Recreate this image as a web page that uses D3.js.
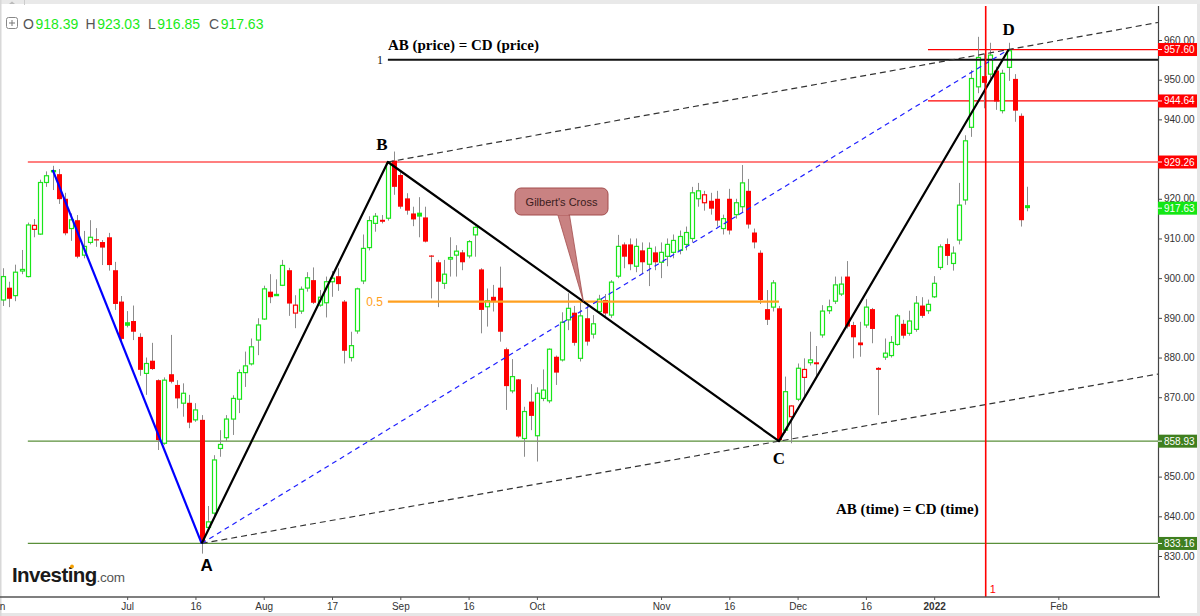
<!DOCTYPE html>
<html><head><meta charset="utf-8">
<script src="https://cdn.jsdelivr.net/npm/d3@7"></script>
<style>html,body{margin:0;padding:0;background:#fff;}svg{display:block;}</style>
</head><body>
<svg id="c" width="1200" height="616"></svg>
<script>
// ---------- DATA ----------
const opens = [894.5,897.6,895.6,901.8,900.4,912.3,911.1,924.1,926.9,926.2,920.0,912.5,914.6,905.8,909.0,909.8,909.1,910.3,902.0,894.1,
888.9,889.2,885.2,876.0,879.2,874.3,858.4,875.8,873.1,868.5,868.6,864.3,864.3,837.2,840.8,857.1,859.8,864.5,869.5,876.2,
878.4,884.4,889.7,896.6,895.7,898.2,902.0,891.2,891.7,897.5,899.5,893.2,893.8,899.1,900.5,894.1,880.0,886.7,899.3,907.7,
913.8,914.7,915.1,929.6,926.0,920.1,916.3,916.5,915.3,905.7,904.0,898.7,904.8,905.8,906.5,905.6,910.9,902.2,892.8,895.3,
897.6,882.1,871.6,874.5,859.6,868.9,860.3,869.7,869.1,880.2,879.4,889.5,891.3,879.8,889.9,885.9,891.6,894.5,890.7,900.5,
908.5,908.5,903.0,907.0,903.5,906.5,904.0,905.5,906.5,907.0,908.5,910.0,920.0,919.0,919.5,920.0,912.5,920.0,916.0,918.0,
922.0,911.5,906.4,892.2,892.7,892.4,861.7,865.1,869.5,875.0,878.7,878.8,885.7,891.8,894.2,896.0,900.4,888.2,883.8,888.2,
892.2,877.4,880.1,880.5,883.3,888.5,886.1,887.1,893.1,891.8,895.3,902.7,908.6,903.7,909.6,919.7,938.0,948.2,950.9,951.4,
952.3,942.2,953.1,950.2,940.9,918.39];
const highs = [902.5,899.1,903.4,907.1,914.0,914.9,924.8,926.9,928.3,927.5,921.5,916.3,915.9,911.9,914.6,912.6,909.6,911.4,904.1,895.5,
891.7,893.1,886.1,880.0,883.7,874.5,875.0,885.7,874.3,873.5,870.6,868.5,865.5,842.6,855.4,861.7,865.5,870.5,877.0,881.5,
884.8,889.9,898.1,901.0,899.7,904.6,902.6,895.7,897.9,901.5,902.7,897.0,900.4,901.8,902.5,894.5,886.5,897.6,911.0,915.6,
916.4,915.9,929.3,931.9,927.0,921.4,918.0,920.4,918.0,905.8,904.6,904.6,910.3,908.3,907.1,909.6,913.1,902.5,897.4,898.3,
902.9,882.5,879.6,874.6,867.6,873.3,872.5,877.0,882.3,880.5,891.4,896.2,893.0,894.0,893.6,890.7,895.8,896.0,899.5,910.9,
909.0,910.0,910.0,909.0,909.0,908.0,909.0,910.0,911.0,912.0,913.0,923.0,924.0,922.0,921.5,922.0,916.0,922.5,920.0,928.5,
925.0,912.5,907.0,897.0,899.5,893.0,875.2,868.0,878.5,879.8,886.5,882.9,893.2,894.6,900.4,900.4,904.3,889.0,889.0,894.7,
892.5,877.6,884.8,885.4,891.0,889.5,891.8,895.5,895.2,894.6,900.5,908.5,910.0,908.0,924.0,936.0,952.4,960.8,956.6,959.3,
953.3,952.5,959.3,951.4,941.5,923.03];
const lows = [893.0,892.7,894.2,901.0,900.2,910.3,910.9,923.0,922.2,918.7,910.8,909.4,905.0,905.0,908.5,907.9,903.3,901.9,892.0,884.0,
887.6,884.4,875.4,870.6,876.9,856.7,858.0,873.5,867.2,865.1,862.2,863.8,830.6,836.8,839.8,855.0,859.0,860.5,866.0,872.6,
878.0,880.6,889.5,893.7,895.5,898.0,890.5,887.4,891.0,896.6,893.5,892.8,890.1,895.3,896.8,878.5,879.0,886.0,898.5,907.0,
911.7,913.8,914.5,921.0,917.5,916.0,913.1,910.3,909.0,894.9,892.7,897.3,900.4,900.4,902.0,905.0,905.4,886.1,887.8,891.6,
884.0,866.8,871.0,859.8,855.0,861.7,853.8,869.0,868.5,873.1,879.0,886.9,883.0,879.0,883.0,884.8,891.0,890.5,890.0,900.0,
902.5,902.0,901.5,901.0,898.0,902.0,900.0,903.0,905.0,906.0,907.0,909.0,918.0,917.0,916.0,913.0,911.0,911.0,915.0,916.5,
912.5,907.5,893.5,888.2,891.6,858.93,861.0,858.4,869.0,870.1,878.0,875.2,885.0,891.0,893.5,895.5,887.3,879.8,880.2,887.5,
883.6,865.5,879.4,880.0,883.0,884.8,885.5,886.5,890.0,891.0,895.0,902.1,903.3,901.9,908.5,918.5,935.6,946.6,942.8,950.0,
942.4,941.5,949.7,939.4,913.0,916.85];
const closes = [900.4,894.8,901.5,902.2,913.4,913.3,924.1,925.8,927.1,919.9,911.3,914.7,905.4,908.0,910.3,909.5,907.7,903.3,893.5,884.7,
888.0,886.5,876.9,878.5,877.1,859.2,874.3,873.9,869.7,871.0,863.6,866.8,833.4,838.6,854.2,858.1,864.5,869.7,876.2,877.9,
882.7,888.2,897.3,895.2,895.9,903.2,893.6,893.2,897.2,900.1,893.8,895.2,899.1,900.0,898.5,881.7,883.0,897.3,907.5,914.5,
915.6,914.2,929.0,923.0,918.0,917.0,914.8,915.5,909.2,905.4,899.1,901.0,905.2,906.8,904.0,909.2,912.8,892.0,894.3,894.2,
886.5,872.8,875.2,860.1,866.4,865.3,871.0,871.8,882.1,876.2,888.9,892.4,883.7,890.5,884.0,888.5,894.7,891.1,899.0,908.0,
905.4,903.5,908.0,904.0,907.5,904.0,906.5,908.5,909.5,910.5,911.5,921.5,922.0,921.0,917.5,914.5,915.0,912.0,919.0,924.0,
913.5,909.0,894.5,889.5,898.8,859.2,871.4,867.8,877.3,877.0,879.4,878.3,891.7,892.8,898.3,898.5,887.8,885.1,883.1,892.7,
887.2,876.9,881.1,883.8,890.5,885.5,889.2,893.7,890.5,893.4,898.7,907.9,905.6,906.3,918.4,934.6,950.3,955.6,949.2,956.2,
944.5,951.6,957.3,942.2,914.6,917.63];

const yTicks = [830,840,850,860,870,880,890,900,910,920,930,940,950,960];
const xTickIdx = [-1,20,31,42,53,64,75,86,106,117,128,139,150,170];
const xTickLabels = ["Jun","Jul","16","Aug","17","Sep","16","Oct","Nov","16","Dec","16","2022","Feb"];

const pivotIdx = [32, 62, 125, 162];
const pivotPrice = [833.16, 929.26, 858.93, 957.60];
const pivotNames = ["A","B","C","D"];
const blueStartIdx = 8, blueStartPrice = 927.3;
const redLevels = [957.60, 944.64];
const redLevelStart = 149;
const resistance = 929.26;
const supports = [858.93, 833.16];
const lastPrice = 917.63;
const vLineIdx = 158.3;
const legendVals = [918.39, 923.03, 916.85, 917.63];

// ---------- SETUP ----------
const W = 1200, H = 616;
const axisX = 1158, axisY = 597, topY = 6;
const svg = d3.select("#c");
const x = d3.scaleLinear().domain([0, 165]).range([3, 1027.3]);
const y = d3.scaleLinear().domain([830, 960]).range([556, 40]);
const RED = "#ff0000", GREEN = "#19e619", DKGREEN = "#3f7f1f", WICK = "#8c8c8c";
const SANS = "Liberation Sans, Arial, sans-serif", SERIF = "Liberation Serif, 'Times New Roman', serif";

svg.append("rect").attr("x",0).attr("y",0).attr("width",W).attr("height",H).attr("fill","#fff");
svg.append("rect").attr("x",1197).attr("y",0).attr("width",3).attr("height",H).attr("fill","#e6e6e6");
svg.append("rect").attr("x",0).attr("y",613).attr("width",W).attr("height",3).attr("fill","#e6e6e6");
svg.append("rect").attr("x",0).attr("y",0).attr("width",W).attr("height",4).attr("fill","#e9e9e9");
svg.append("rect").attr("x",0).attr("y",0).attr("width",1.5).attr("height",H).attr("fill","#d8d8d8");
svg.append("line").attr("x1",24.5).attr("x2",24.5).attr("y1",0).attr("y2",5).attr("stroke","#ccc");
svg.append("path").attr("d","M9,4 L12,1.5 L15,4 Z").attr("fill","#bbb");

svg.append("defs").append("clipPath").attr("id","plot")
  .append("rect").attr("x",0).attr("y",topY).attr("width",axisX).attr("height",axisY-topY);
const g = svg.append("g").attr("clip-path","url(#plot)");

g.append("line").attr("x1",x(4)).attr("x2",axisX).attr("y1",y(resistance)).attr("y2",y(resistance))
  .attr("stroke",RED).attr("stroke-width",1.2);
redLevels.forEach(p=>{
  g.append("line").attr("x1",x(redLevelStart)).attr("x2",axisX).attr("y1",y(p)).attr("y2",y(p))
    .attr("stroke",RED).attr("stroke-width",1.2);
});
supports.forEach(p=>{
  g.append("line").attr("x1",x(4)).attr("x2",axisX).attr("y1",y(p)).attr("y2",y(p))
    .attr("stroke","#5a8f3a").attr("stroke-width",1.2);
});

const [pA,pB,pC,pD] = pivotPrice;
const [iA,iB,iC,iD] = pivotIdx;
const halfLevel = (pB + pC)/2;
const target = pC + (pB - pA);
const crossIdx = iB + (iC - iB) * (pB - halfLevel) / (pB - pC);

// candles
const n = closes.length;
const candles = d3.range(n).map(i=>({i,o:opens[i],h:highs[i],l:lows[i],c:closes[i],
  up: i===0 ? true : closes[i] >= closes[i-1], hollow: closes[i] > opens[i]}));
const cg = g.append("g");
cg.selectAll("line.w").data(candles).join("line").attr("class","w")
  .attr("x1",d=>Math.round(x(d.i))+0.5).attr("x2",d=>Math.round(x(d.i))+0.5)
  .attr("y1",d=>y(d.h)).attr("y2",d=>y(d.l)).attr("stroke",WICK).attr("stroke-width",1);
cg.selectAll("rect.b").data(candles).join("rect").attr("class","b")
  .attr("x",d=>Math.round(x(d.i))-2+(d.hollow?0.5:0))
  .attr("width",d=>d.hollow?4:5)
  .attr("y",d=>y(Math.max(d.o,d.c)))
  .attr("height",d=>Math.max(1.2, Math.abs(y(d.o)-y(d.c))))
  .attr("fill",d=>d.hollow?"#fff":(d.up?GREEN:RED))
  .attr("stroke",d=>d.hollow?(d.up?GREEN:RED):"none")
  .attr("stroke-width",1.2);

// 0.5 level
g.append("line").attr("x1",x(iB)).attr("x2",x(iC)).attr("y1",y(halfLevel)).attr("y2",y(halfLevel))
  .attr("stroke","#ffa020").attr("stroke-width",2.2);
svg.append("text").attr("x",x(iB)-5).attr("y",y(halfLevel)+4).attr("text-anchor","end")
  .attr("font-family",SANS).attr("font-size",12).attr("fill","#ffa020").text("0.5");

// target level "1"
g.append("line").attr("x1",x(iB)).attr("x2",axisX).attr("y1",y(target)).attr("y2",y(target))
  .attr("stroke","#111").attr("stroke-width",2.2);
svg.append("text").attr("x",x(iB)-5).attr("y",y(target)+4).attr("text-anchor","end")
  .attr("font-family",SERIF).attr("font-size",12).attr("fill","#111").text("1");

// dashed lines
const extEnd = x.invert(axisX);
function extLine(i1,p1,i2,p2,iEnd){ const s=(p2-p1)/(i2-i1); return [[i1,p1],[iEnd,p1+s*(iEnd-i1)]]; }
const lineGen = d3.line().x(d=>x(d[0])).y(d=>y(d[1]));
g.append("path").attr("d",lineGen(extLine(iA,pA,iC,pC,extEnd))).attr("fill","none")
  .attr("stroke","#333").attr("stroke-width",1.2).attr("stroke-dasharray","6,4");
g.append("path").attr("d",lineGen(extLine(iB,pB,iD,pD,extEnd))).attr("fill","none")
  .attr("stroke","#333").attr("stroke-width",1.2).attr("stroke-dasharray","6,4");
g.append("path").attr("d",lineGen([[iA,pA],[iD,pD]])).attr("fill","none")
  .attr("stroke","#2020ff").attr("stroke-width",1.2).attr("stroke-dasharray","5,4");

g.append("path").attr("d",lineGen([[blueStartIdx,blueStartPrice],[iA,pA]])).attr("fill","none")
  .attr("stroke","#0000ff").attr("stroke-width",2.2);
g.append("path").attr("d",lineGen(pivotIdx.map((d,k)=>[d,pivotPrice[k]]))).attr("fill","none")
  .attr("stroke","#000").attr("stroke-width",2.2).attr("stroke-linejoin","round");

// vertical red line
g.append("line").attr("x1",x(vLineIdx)).attr("x2",x(vLineIdx)).attr("y1",topY).attr("y2",axisY)
  .attr("stroke",RED).attr("stroke-width",1.6);
svg.append("text").attr("x",x(vLineIdx)+4).attr("y",593).attr("font-family",SANS)
  .attr("font-size",11).attr("fill",RED).text("1");

// pivot labels
const labOff = [[5,28,SANS],[-6,-12,SERIF],[0,23,SERIF],[0,-15,SERIF]];
pivotNames.forEach((nm,k)=>{
  svg.append("text").attr("x",x(pivotIdx[k])+labOff[k][0]).attr("y",y(pivotPrice[k])+labOff[k][1])
    .attr("text-anchor","middle").attr("font-family",labOff[k][2])
    .attr("font-weight","bold").attr("font-size",17).attr("fill","#000").text(nm);
});

// annotations
svg.append("text").attr("x",x(iB)).attr("y",50).attr("font-family",SERIF)
  .attr("font-weight","bold").attr("font-size",15).attr("fill","#000").text("AB (price) = CD (price)");
svg.append("text").attr("x",836).attr("y",514).attr("font-family",SERIF)
  .attr("font-weight","bold").attr("font-size",15).attr("fill","#000").text("AB (time) = CD (time)");

// Gilbert's cross callout
const crossX = x(crossIdx), crossY = y(halfLevel);
const cb = svg.append("g");
cb.append("path").attr("d",`M557,212 L569,212 L${crossX},${crossY} Z`).attr("fill","#c98282").attr("stroke","#a34d4d").attr("stroke-width",0.8);
cb.append("rect").attr("x",515).attr("y",188).attr("width",93).attr("height",27).attr("rx",6)
  .attr("fill","#c98282").attr("stroke","#a34d4d").attr("stroke-width",1);
cb.append("path").attr("d","M557.5,214.5 L568.5,214.5").attr("stroke","#c98282").attr("stroke-width",1.5);
cb.append("text").attr("x",561.5).attr("y",205.5).attr("text-anchor","middle")
  .attr("font-family",SANS).attr("font-size",11).attr("fill","#3a1c1c").text("Gilbert's Cross");

// ---------- AXES ----------
const tagPrices = [...redLevels, resistance, lastPrice, ...supports];
svg.append("line").attr("x1",axisX+0.5).attr("x2",axisX+0.5).attr("y1",topY).attr("y2",axisY).attr("stroke","#444").attr("stroke-width",1.2);
const ya = svg.append("g").attr("transform",`translate(${axisX},0)`)
  .call(d3.axisRight(y).tickValues(yTicks).tickFormat(d3.format(".2f")).tickSize(4).tickPadding(2));
ya.select(".domain").remove();
ya.selectAll("line").attr("stroke","#444");
ya.selectAll("text").attr("font-family",SANS).attr("font-size",10).attr("fill","#333")
  .style("display",d=>tagPrices.some(p=>Math.abs(y(p)-y(d))<6)?"none":null);

svg.append("line").attr("x1",0).attr("x2",axisX+2).attr("y1",axisY).attr("y2",axisY).attr("stroke","#555").attr("stroke-width",1.5);
const xa = svg.append("g").attr("transform",`translate(0,${axisY})`)
  .call(d3.axisBottom(x).tickValues(xTickIdx).tickFormat((d,k)=>xTickLabels[k]).tickSize(3).tickPadding(3));
xa.select(".domain").remove();
xa.selectAll("line").attr("stroke","#555");
xa.selectAll("text").attr("font-family",SANS).attr("font-size",10).attr("fill","#333")
  .attr("font-weight",(d,k)=>xTickLabels[k]==="2022"?"bold":"normal");

// price tags
const tags = [
  ...redLevels.map(p=>({p,bg:RED})),
  {p:resistance,bg:RED},
  {p:lastPrice,bg:"#14e614"},
  ...supports.map(p=>({p,bg:DKGREEN}))
];
const tg = svg.append("g");
tags.forEach(t=>{
  const yy = y(t.p);
  tg.append("rect").attr("x",axisX).attr("y",yy-6.5).attr("width",39).attr("height",13).attr("fill",t.bg);
  tg.append("line").attr("x1",axisX).attr("x2",axisX+4).attr("y1",yy).attr("y2",yy).attr("stroke","#fff");
  tg.append("text").attr("x",axisX+6).attr("y",yy+3.5).attr("font-family",SANS)
    .attr("font-size",10).attr("fill","#fff").text(d3.format(".2f")(t.p));
});

// legend
const lg = svg.append("g");
lg.append("rect").attr("x",6.5).attr("y",17.5).attr("width",11).attr("height",11).attr("rx",2)
  .attr("fill","#fff").attr("stroke","#888");
lg.append("path").attr("d","M9,23 L15,23 M12,20 L12,26").attr("stroke","#777");
const legLetters = ["O","H","L","C"], legX = [23,85.5,148,209];
legLetters.forEach((L,k)=>{
  const t = lg.append("text").attr("x",legX[k]).attr("y",28.5).attr("font-family",SANS).attr("font-size",14);
  t.append("tspan").attr("fill","#555").text(L);
  t.append("tspan").attr("fill","#1aea1a").attr("dx",1.5).text(d3.format(".2f")(legendVals[k]));
});

// logo
const logo = svg.append("text").attr("x",12).attr("y",582).attr("font-family",SANS);
logo.append("tspan").attr("font-weight","bold").attr("font-size",20.5).attr("letter-spacing",-0.6).attr("fill","#1a1a1a").text("Investing");
logo.append("tspan").attr("font-size",13.5).attr("fill","#555").attr("letter-spacing",-0.3).text(".com");
svg.append("circle").attr("cx",72).attr("cy",566.5).attr("r",1.9).attr("fill","#f5a000");
</script>
</body></html>
